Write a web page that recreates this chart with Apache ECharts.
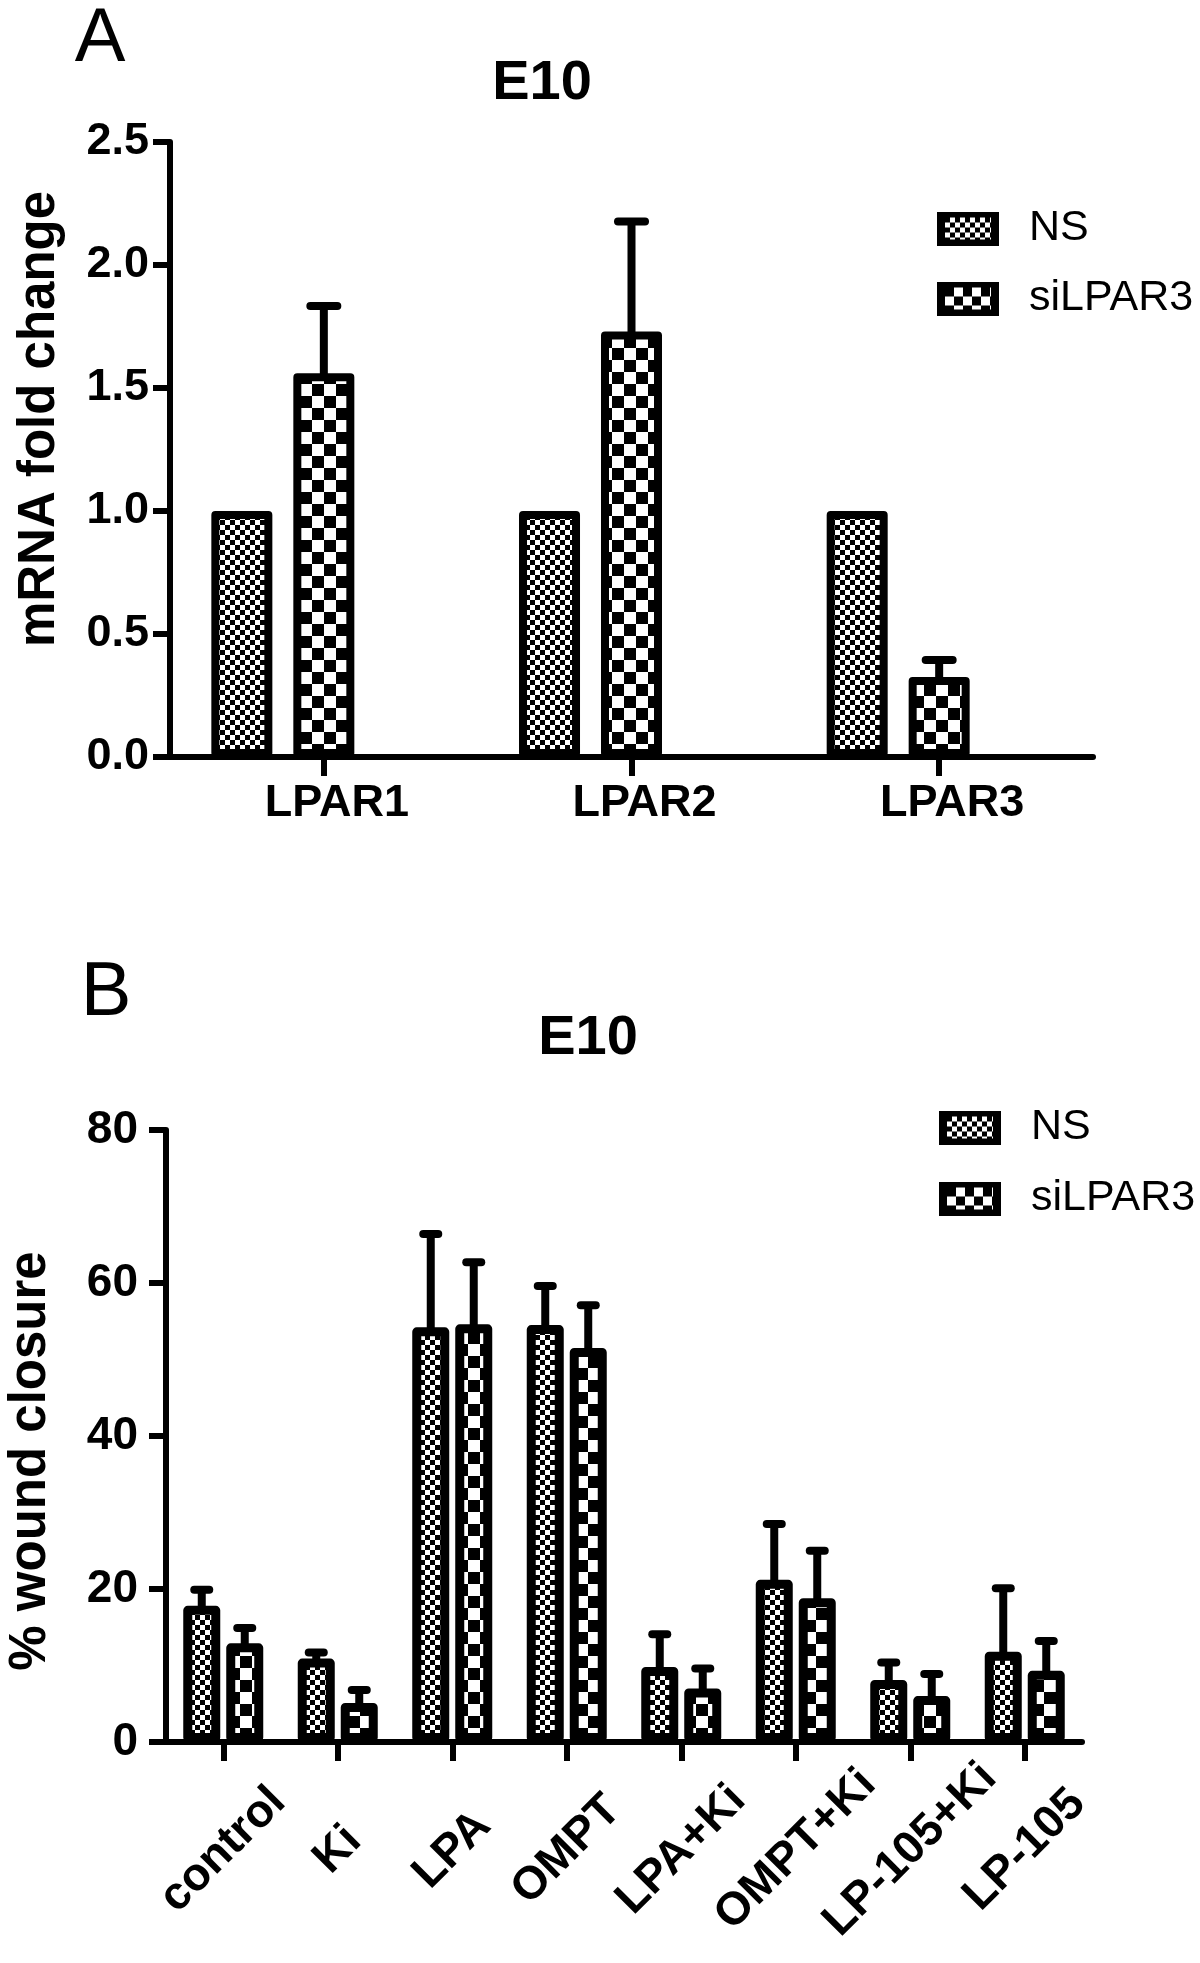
<!DOCTYPE html>
<html>
<head>
<meta charset="utf-8">
<script src="https://cdn.jsdelivr.net/npm/echarts@6/dist/echarts.min.js"></script>
<style>html,body{margin:0;padding:0;background:#fff}#c{width:1200px;height:1963px}</style>
</head>
<body>
<div id="c"></div>
<script>
// ---------- data ----------
const catsA = ['LPAR1', 'LPAR2', 'LPAR3'];
const nsA = [1.0, 1.0, 1.0];
const siA = [1.56, 1.73, 0.325];
const siAErr = [0.273, 0.447, 0.069];
const yTicksA = [0, 0.5, 1.0, 1.5, 2.0, 2.5];

const catsB = ['control', 'Ki', 'LPA', 'OMPT', 'LPA+Ki', 'OMPT+Ki', 'LP-105+Ki', 'LP-105'];
const nsB = [17.8, 10.9, 54.2, 54.5, 9.8, 21.2, 8.1, 11.8];
const nsBErr = [2.1, 0.8, 12.2, 5.1, 4.3, 7.3, 2.3, 8.3];
const siB = [12.9, 5.1, 54.6, 51.5, 7.0, 18.8, 6.0, 9.3];
const siBErr = [2.0, 1.7, 8.1, 5.6, 2.6, 6.2, 2.9, 3.9];
const yTicksB = [0, 20, 40, 60, 80];

const seriesNames = ['NS', 'siLPAR3'];

// ---------- styles ----------
const FONT = "'Liberation Sans', Arial, Helvetica, sans-serif";
function checkerCanvas(cell) {
  const c = document.createElement('canvas');
  c.width = c.height = cell * 2;
  const g = c.getContext('2d');
  g.fillStyle = '#fff'; g.fillRect(0, 0, cell * 2, cell * 2);
  g.fillStyle = '#000';
  g.fillRect(0, 0, cell, cell);
  g.fillRect(cell, cell, cell, cell);
  return c;
}
const cvNS = checkerCanvas(5);
const cvSI = checkerCanvas(12);
const patNS = { image: cvNS, repeat: 'repeat' };
const patSI = { image: cvSI, repeat: 'repeat' };

function legendIcon(cv, w, h, bx, by) {
  const c = document.createElement('canvas');
  c.width = w; c.height = h;
  const g = c.getContext('2d');
  g.fillStyle = '#000'; g.fillRect(0, 0, w, h);
  g.save();
  g.translate(bx, by);
  g.fillStyle = g.createPattern(cv, 'repeat');
  g.fillRect(0, 0, w - 2 * bx, h - 2 * by);
  g.restore();
  return 'image://' + c.toDataURL();
}
const iconNS = legendIcon(checkerCanvas(5), 62, 34, 8, 6);
const iconSI = legendIcon(checkerCanvas(9), 62, 34, 8, 6);

const A = { bw: 61, gap: 0.344, border: 8, capL: 27, lw: 8 };
const B = { bw: 37, gap: 0.162, border: 9, capL: 15, lw: 8 };
const pitchB = B.bw * (1 + B.gap);

function errRender(offset, capL, lw) {
  return function (params, api) {
    const i = api.value(0), v = api.value(1), t = api.value(2);
    const p0 = api.coord([i, v]);
    const p1 = api.coord([i, t]);
    const x = p0[0] + offset;
    return {
      type: 'group',
      children: [
        { type: 'line', shape: { x1: x, y1: p0[1] + 4, x2: x, y2: p1[1] }, style: { stroke: '#000', lineWidth: lw } },
        { type: 'line', shape: { x1: x - capL / 2, y1: p1[1], x2: x + capL / 2, y2: p1[1] }, style: { stroke: '#000', lineWidth: lw, lineCap: 'round' } }
      ]
    };
  };
}

function barItem(pat, bw) {
  return { color: pat, borderColor: '#000', borderWidth: bw, borderJoin: 'round' };
}

const axisLineStyle = { show: true, lineStyle: { color: '#000', width: 6 } };
const tickStyle = { show: true, length: 17, lineStyle: { color: '#000', width: 6 } };

function legendCfg(left, top, gap) {
  return {
    orient: 'vertical', left: left, top: top, padding: 0,
    itemWidth: 62, itemHeight: 34, itemGap: gap,
    data: [{ name: seriesNames[0], icon: iconNS }, { name: seriesNames[1], icon: iconSI }],
    textStyle: { color: '#000', fontFamily: FONT, fontSize: 43, lineHeight: 34, padding: [0, 0, 0, 25] },
    selectedMode: false
  };
}

const option = {
  animation: false,
  backgroundColor: '#fff',
  grid: [
    { left: 170, top: 142, width: 923, height: 615, outerBoundsMode: 'none', containLabel: false },
    { left: 166, top: 1130, width: 916, height: 612, outerBoundsMode: 'none', containLabel: false }
  ],
  xAxis: [
    {
      gridIndex: 0, type: 'category', data: catsA, boundaryGap: true,
      axisLine: axisLineStyle,
      axisTick: { show: true, alignWithLabel: true, length: 19, lineStyle: { color: '#000', width: 6 } },
      axisLabel: { color: '#000', fontFamily: FONT, fontWeight: 'bold', fontSize: 45, margin: 24, padding: [0, 0, 0, 26] },
      splitLine: { show: false }
    },
    {
      gridIndex: 1, type: 'category', data: catsB, boundaryGap: true,
      axisLine: axisLineStyle,
      axisTick: { show: true, alignWithLabel: true, length: 19, lineStyle: { color: '#000', width: 6 } },
      axisLabel: { color: '#000', fontFamily: FONT, fontWeight: 'bold', fontSize: 46, rotate: 45, align: 'center', verticalAlign: 'middle', margin: 108, interval: 0 },
      splitLine: { show: false }
    }
  ],
  yAxis: [
    {
      gridIndex: 0, type: 'value', min: yTicksA[0], max: yTicksA[yTicksA.length - 1], interval: yTicksA[1] - yTicksA[0],
      axisLine: axisLineStyle, axisTick: tickStyle,
      axisLabel: { color: '#000', fontFamily: FONT, fontWeight: 'bold', fontSize: 45, margin: 21, formatter: v => v.toFixed(1) },
      splitLine: { show: false }
    },
    {
      gridIndex: 1, type: 'value', min: yTicksB[0], max: yTicksB[yTicksB.length - 1], interval: yTicksB[1] - yTicksB[0],
      axisLine: axisLineStyle, axisTick: tickStyle,
      axisLabel: { color: '#000', fontFamily: FONT, fontWeight: 'bold', fontSize: 46, margin: 28 },
      splitLine: { show: false }
    }
  ],
  legend: [legendCfg(937, 207, 27), legendCfg(939, 1106, 28)],
  graphic: [
    { type: 'text', x: 100, y: 40, style: { text: 'A', font: '76px ' + FONT, fill: '#000', align: 'center', verticalAlign: 'middle' } },
    { type: 'text', x: 542, y: 84, style: { text: 'E10', font: 'bold 56px ' + FONT, fill: '#000', align: 'center', verticalAlign: 'middle' } },
    { type: 'text', x: 40, y: 419, rotation: Math.PI / 2, style: { text: 'mRNA fold change', font: 'bold 51px ' + FONT, fill: '#000', align: 'center', verticalAlign: 'middle' } },
    { type: 'text', x: 106, y: 994, style: { text: 'B', font: '76px ' + FONT, fill: '#000', align: 'center', verticalAlign: 'middle' } },
    { type: 'text', x: 588, y: 1039, style: { text: 'E10', font: 'bold 56px ' + FONT, fill: '#000', align: 'center', verticalAlign: 'middle' } },
    { type: 'text', x: 31, y: 1461, rotation: Math.PI / 2, style: { text: '% wound closure', font: 'bold 51px ' + FONT, fill: '#000', align: 'center', verticalAlign: 'middle' } }
  ],
  series: [
    // chart A
    { name: 'NS', type: 'bar', xAxisIndex: 0, yAxisIndex: 0, data: nsA, barWidth: A.bw, barGap: (A.gap * 100) + '%', itemStyle: barItem(patNS, A.border), z: 2 },
    { name: 'siLPAR3', type: 'bar', xAxisIndex: 0, yAxisIndex: 0, data: siA, barWidth: A.bw, barGap: (A.gap * 100) + '%', itemStyle: barItem(patSI, A.border), z: 2 },
    { name: 'slot', type: 'bar', xAxisIndex: 0, yAxisIndex: 0, data: catsA.map(() => 0), barWidth: A.bw, barGap: (A.gap * 100) + '%', itemStyle: { opacity: 0 }, silent: true },
    { name: 'errA', type: 'custom', xAxisIndex: 0, yAxisIndex: 0, z: 5, silent: true,
      renderItem: errRender(0, A.capL, A.lw),
      data: catsA.map((c, i) => [i, siA[i], siA[i] + siAErr[i]]) },
    // chart B
    { name: 'NS', type: 'bar', xAxisIndex: 1, yAxisIndex: 1, data: nsB, barWidth: B.bw, barGap: (B.gap * 100) + '%', itemStyle: barItem(patNS, B.border), z: 2 },
    { name: 'siLPAR3', type: 'bar', xAxisIndex: 1, yAxisIndex: 1, data: siB, barWidth: B.bw, barGap: (B.gap * 100) + '%', itemStyle: barItem(patSI, B.border), z: 2 },
    { name: 'errBns', type: 'custom', xAxisIndex: 1, yAxisIndex: 1, z: 5, silent: true,
      renderItem: errRender(-pitchB / 2, B.capL, B.lw),
      data: catsB.map((c, i) => [i, nsB[i], nsB[i] + nsBErr[i]]) },
    { name: 'errBsi', type: 'custom', xAxisIndex: 1, yAxisIndex: 1, z: 5, silent: true,
      renderItem: errRender(pitchB / 2, B.capL, B.lw),
      data: catsB.map((c, i) => [i, siB[i], siB[i] + siBErr[i]]) }
  ]
};

const chart = echarts.init(document.getElementById('c'), null, { renderer: 'canvas', width: 1200, height: 1963 });
chart.setOption(option);
</script>
</body>
</html>
